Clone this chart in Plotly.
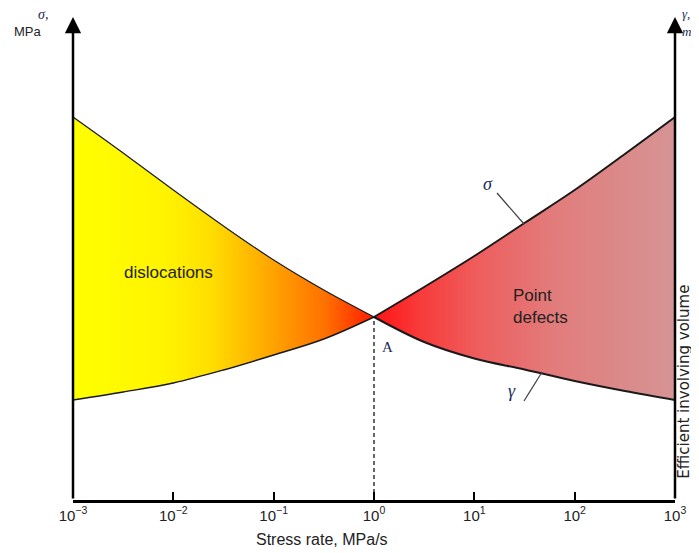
import plotly.graph_objects as go

# log10(stress rate) exponents
exp_left = [-3, -2.5, -2, -1.5, -1, -0.5, 0]
exp_right = [0, 0.5, 1, 1.5, 2, 2.5, 3]
sigma_left = [3.83, 3.47, 3.10, 2.74, 2.40, 2.10, 1.83]
sigma_right = [1.83, 2.13, 2.44, 2.77, 3.10, 3.46, 3.83]
gamma_left = [1.00, 1.08, 1.17, 1.30, 1.45, 1.61, 1.83]
gamma_right = [1.83, 1.58, 1.415, 1.305, 1.19, 1.09, 1.00]

tick_vals = [1e-3, 1e-2, 1e-1, 1e0, 1e1, 1e2, 1e3]
tick_text = ["10<sup>−3</sup>", "10<sup>−2</sup>", "10<sup>−1</sup>", "10<sup>0</sup>",
             "10<sup>1</sup>", "10<sup>2</sup>", "10<sup>3</sup>"]

xl = [10 ** e for e in exp_left]
xr = [10 ** e for e in exp_right]

left_scale = [[0, '#FFFF00'], [0.3, '#FFF400'], [0.45, '#FFE000'], [0.62, '#FFB000'],
              [0.84, '#FF7000'], [1, '#FF1C00']]
right_scale = [[0, '#FF1414'], [0.15, '#F83A3A'], [0.35, '#EE5E5E'], [0.6, '#E27C7C'],
               [1, '#D69494']]

fig = go.Figure()
fig.add_trace(go.Scatter(x=xl, y=gamma_left, mode='lines', line=dict(width=0, shape='spline'),
                         showlegend=False, hoverinfo='skip'))
fig.add_trace(go.Scatter(x=xl, y=sigma_left, mode='lines', line=dict(width=0, shape='spline'),
                         fill='tonexty', fillgradient=dict(type='horizontal', colorscale=left_scale),
                         showlegend=False, hoverinfo='skip'))
fig.add_trace(go.Scatter(x=xr, y=gamma_right, mode='lines', line=dict(width=0, shape='spline'),
                         showlegend=False, hoverinfo='skip'))
fig.add_trace(go.Scatter(x=xr, y=sigma_right, mode='lines', line=dict(width=0, shape='spline'),
                         fill='tonexty', fillgradient=dict(type='horizontal', colorscale=right_scale),
                         showlegend=False, hoverinfo='skip'))
# outlines
for xs, ys, w in [(xl, sigma_left, 1.2), (xl, gamma_left, 1.4), (xr, sigma_right, 2), (xr, gamma_right, 2)]:
    fig.add_trace(go.Scatter(x=xs, y=ys, mode='lines', line=dict(color='#1a1a1a', width=w, shape='spline'),
                             showlegend=False, hoverinfo='skip'))

sans = 'Liberation Sans, Arial, sans-serif'
txt = dict(family=sans, size=17, color='#222222')
serif = dict(family='Liberation Serif, Times New Roman, serif', size=18, color='#1c2a55')
serif14 = dict(family='Liberation Serif, Times New Roman, serif', size=14, color='#1c2a55')
serif13 = dict(family='Liberation Serif, Times New Roman, serif', size=13, color='#1c2a55')

annotations = [
    dict(x=-3, y=4.83, ax=-3, ay=0, xref='x', yref='y', axref='x', ayref='y', showarrow=True,
         arrowhead=2, arrowsize=1.3, arrowwidth=2.5, arrowcolor='#000', text=''),
    dict(x=3, y=4.83, ax=3, ay=0, xref='x', yref='y', axref='x', ayref='y', showarrow=True,
         arrowhead=2, arrowsize=1.3, arrowwidth=2.5, arrowcolor='#000', text=''),
    dict(x=-2.05, y=2.28, xref='x', yref='y', text='dislocations', showarrow=False, font=txt,
         xanchor='center', yanchor='middle'),
    dict(x=1.366, y=1.94, xref='x', yref='y', text='Point<br>defects', showarrow=False, font=txt,
         align='left', xanchor='left', yanchor='middle'),
    dict(x=0.13, y=1.53, xref='x', yref='y', text='A', showarrow=False,
         font=dict(family='Liberation Serif, serif', size=15, color='#1c2a55')),
    dict(x=1.136, y=3.16, xref='x', yref='y', text='<i>σ</i>', showarrow=False, font=serif),
    dict(x=1.376, y=1.09, xref='x', yref='y', text='<i>γ</i>', showarrow=False, font=serif),
    dict(x=-0.0498, y=1.006, xref='paper', yref='paper', text='<i>σ,</i>', showarrow=False,
         font=serif14, xanchor='center', yanchor='middle'),
    dict(x=-0.0748, y=0.969, xref='paper', yref='paper', text='MPa', showarrow=False,
         font=dict(family=sans, size=13, color='#222222'), xanchor='center', yanchor='middle'),
    dict(x=1.008, y=1.008, xref='paper', yref='paper', text='<i>γ,</i>', showarrow=False,
         font=serif13, xanchor='left', yanchor='middle'),
    dict(x=1.008, y=0.971, xref='paper', yref='paper', text='<i>m</i>', showarrow=False,
         font=serif13, xanchor='left', yanchor='middle'),
    dict(x=1.015, y=0.245, xref='paper', yref='paper', text='Efficient involving volume',
         showarrow=False, textangle=-90, xanchor='center', yanchor='middle',
         font=dict(family='DejaVu Sans, sans-serif', size=15, color='#222222')),
    dict(x=0.414, y=-0.0828, xref='paper', yref='paper', text='Stress rate, MPa/s',
         showarrow=False, xanchor='center', yanchor='middle',
         font=dict(family=sans, size=16, color='#222222')),
]

shapes = [
    dict(type='line', x0=1, x1=1, y0=0, y1=1.83, xref='x', yref='y',
         line=dict(color='#000', width=1.2, dash='4px,3px')),
    dict(type='line', x0=10 ** 1.226, y0=3.07, x1=10 ** 1.495, y1=2.76, xref='x', yref='y',
         line=dict(color='#444', width=1.3)),
    dict(type='line', x0=10 ** 1.495, y0=0.99, x1=10 ** 1.675, y1=1.28, xref='x', yref='y',
         line=dict(color='#444', width=1.3)),
]

# page body has an 8px margin; shift figure accordingly
fig.update_layout(
    width=691, height=545,
    margin=dict(l=65, r=24, t=9, b=53),
    plot_bgcolor='white', paper_bgcolor='white',
    showlegend=False,
    annotations=annotations,
    shapes=shapes,
    xaxis=dict(type='log', range=[-3, 3], showgrid=False, zeroline=False, automargin=False,
               showline=True, linecolor='#000', linewidth=2.5,
               ticks='inside', ticklen=8, tickwidth=2, tickcolor='#000',
               tickvals=tick_vals, ticktext=tick_text,
               tickfont=dict(family=sans, size=15, color='#222')),
    yaxis=dict(range=[0, 4.83], showgrid=False, zeroline=False, showline=False, automargin=False,
               showticklabels=False, ticks=''),
)

fig.write_html("out.html")
